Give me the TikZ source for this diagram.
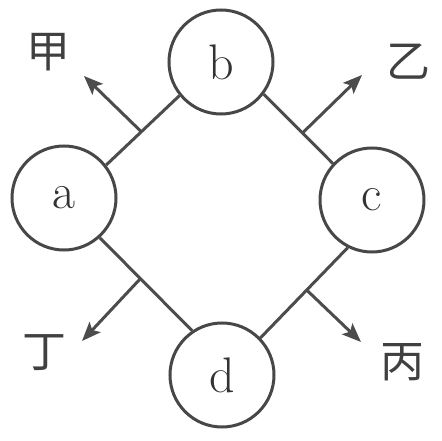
\documentclass[tikz,border=0pt]{standalone}
\usepackage{fontspec}
\newfontfamily\cjk{Noto Sans CJK SC}
\usetikzlibrary{arrows.meta,calc}
\begin{document}
\begin{tikzpicture}[x=1pt,y=1pt,
  vert/.style={circle,draw=black!72,line width=3pt,minimum size=104pt,inner sep=0pt,font=\fontsize{50}{50}\selectfont,text=black!80},
  edge/.style={draw=black!70,line width=3pt},
  outarrow/.style={draw=black!70,line width=3pt,-{Stealth[length=19pt,width=15pt,inset=4pt]}},
  lab/.style={font=\cjk\fontsize{44}{44}\selectfont,text=black!75}]
\useasboundingbox (0,0) rectangle (442,440);
\node[vert] (a) at (64,242) {a};
\node[vert] (b) at (221,378) {b};
\node[vert] (c) at (372,240) {c};
\node[vert] (d) at (222,65) {d};
\draw[edge] (a.38) -- (b.219);
\draw[edge] (b.323) -- (c.137);
\draw[edge] (c.243) -- (d.44);
\draw[edge] (d.124) -- (a.312);
\coordinate (mab) at ($(a.38)!0.48!(b.219)$);
\coordinate (mbc) at ($(b.323)!0.56!(c.137)$);
\coordinate (mad) at ($(a.312)!0.44!(d.124)$);
\coordinate (mcd) at ($(c.243)!0.47!(d.44)$);
\coordinate (t1) at (84,364);
\coordinate (t2) at (362,365);
\coordinate (t3) at (82,99);
\coordinate (t4) at (361,98);
\draw[outarrow] (mab) -- (t1);
\draw[outarrow] (mbc) -- (t2);
\draw[outarrow] (mad) -- (t3);
\draw[outarrow] (mcd) -- (t4);
\node[lab] (jia) at (48,388) {甲};
\node[lab] (yi) at (408,378) {乙};
\node[lab] (ding) at (45,87) {丁};
\node[lab] (bing) at (402,78) {丙};
\end{tikzpicture}
\end{document}
